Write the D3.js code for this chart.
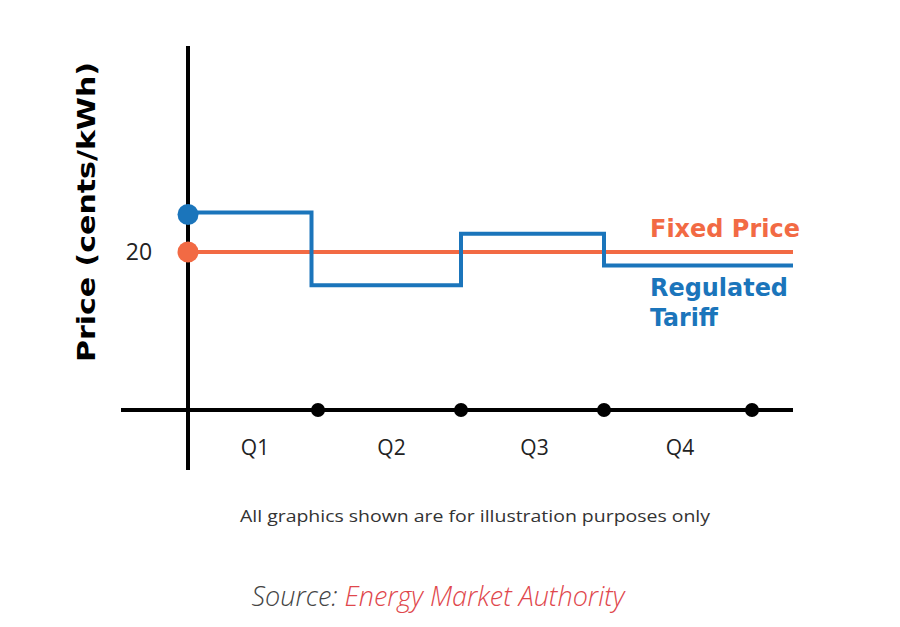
<!DOCTYPE html>
<html>
<head>
<meta charset="utf-8">
<script src="https://cdn.jsdelivr.net/npm/d3@7"></script>
<style>
  body { margin: 0; background: #fff; }
  svg { display: block; }
</style>
</head>
<body>
<script>
// data
var quarters = ["Q1", "Q2", "Q3", "Q4"];
var quarterMarks = [1, 2, 3, 4];          // dots on the time axis
var fixedPrice = [20, 20];                // flat line
var fixedX = [0, 4.28];
var tariffX = [0, 0.95, 2, 3, 4.28];      // step edges
var tariffValues = [25, 15.8, 22.3, 18.3];
var yTicks = [20];

var W = 900, H = 627;
var svg = d3.select("body").append("svg")
    .attr("width", W)
    .attr("height", H);

// the quarters in the picture are not evenly spaced
var x = d3.scaleLinear()
    .domain([0, 1, 2, 3, 4, 4.28])
    .range([188, 318, 461, 604, 752, 793]);
var y = d3.scaleLinear()
    .domain([0, 20])
    .range([410, 252]);

var blue = "#1b75bb", orange = "#f26a44";
var boldFont = "DejaVu Sans";

// axes
svg.append("line")
    .attr("x1", 121).attr("x2", 793)
    .attr("y1", y(0)).attr("y2", y(0))
    .attr("stroke", "#000").attr("stroke-width", 4);
svg.append("line")
    .attr("x1", x(0)).attr("x2", x(0))
    .attr("y1", 46).attr("y2", 470)
    .attr("stroke", "#000").attr("stroke-width", 4);

svg.selectAll(".qdot")
    .data(quarterMarks)
    .enter().append("circle")
    .attr("cx", function(d) { return x(d); })
    .attr("cy", y(0))
    .attr("r", 7)
    .attr("fill", "#000");

svg.selectAll(".qlabel")
    .data(quarters)
    .enter().append("text")
    .attr("x", function(d, i) { return x(i + 0.5) + 2; })
    .attr("y", 455)
    .attr("text-anchor", "middle")
    .attr("font-family", "Open Sans")
    .attr("font-size", 21)
    .attr("fill", "#222")
    .text(function(d) { return d; });

svg.selectAll(".ytick")
    .data(yTicks)
    .enter().append("text")
    .attr("x", 139)
    .attr("y", function(d) { return y(d) + 8; })
    .attr("text-anchor", "middle")
    .attr("font-family", "Open Sans")
    .attr("font-size", 23)
    .attr("fill", "#222")
    .text(function(d) { return d; });

svg.append("text")
    .attr("transform", "translate(95,212) rotate(-90)")
    .attr("text-anchor", "middle")
    .attr("font-family", boldFont)
    .attr("font-weight", "bold")
    .attr("font-size", 24)
    .attr("textLength", 300)
    .attr("lengthAdjust", "spacingAndGlyphs")
    .attr("fill", "#000")
    .text("Price (cents/kWh)");

// fixed price
var line = d3.line()
    .x(function(d) { return x(d[0]); })
    .y(function(d) { return y(d[1]); });

svg.append("path")
    .datum(fixedX.map(function(d, i) { return [d, fixedPrice[i]]; }))
    .attr("d", line)
    .attr("fill", "none")
    .attr("stroke", orange)
    .attr("stroke-width", 4);

// regulated tariff as steps
var stepPts = tariffValues.map(function(v, i) { return [tariffX[i], v]; });
stepPts.push([tariffX[tariffX.length - 1], tariffValues[tariffValues.length - 1]]);
svg.append("path")
    .datum(stepPts)
    .attr("d", line.curve(d3.curveStepAfter))
    .attr("fill", "none")
    .attr("stroke", blue)
    .attr("stroke-width", 4);

svg.append("circle")
    .attr("cx", x(0)).attr("cy", y(tariffValues[0]) + 2)
    .attr("r", 10.5).attr("fill", blue);
svg.append("circle")
    .attr("cx", x(0)).attr("cy", y(fixedPrice[0]))
    .attr("r", 10.5).attr("fill", orange);

// series labels
function seriesLabel(txt, yy, color, len) {
  var t = svg.append("text")
      .attr("x", 650).attr("y", yy)
      .attr("font-family", boldFont).attr("font-weight", "bold")
      .attr("font-size", 24).attr("fill", color)
      .text(txt);
  if (len) t.attr("textLength", len).attr("lengthAdjust", "spacingAndGlyphs");
}
seriesLabel("Fixed Price", 237, orange, 150);
seriesLabel("Regulated", 296, blue, 138);
seriesLabel("Tariff", 326, blue, 68);

svg.append("text")
    .attr("x", 475).attr("y", 522)
    .attr("text-anchor", "middle")
    .attr("font-family", "Open Sans")
    .attr("font-size", 16)
    .attr("fill", "#333")
    .attr("textLength", 470)
    .attr("lengthAdjust", "spacingAndGlyphs")
    .text("All graphics shown are for illustration purposes only");

var src = svg.append("text")
    .attr("x", 438).attr("y", 606)
    .attr("text-anchor", "middle")
    .attr("font-family", "Open Sans")
    .attr("font-style", "italic")
    .attr("font-weight", 300)
    .attr("font-size", 27);
src.append("tspan").attr("fill", "#444").text("Source: ");
src.append("tspan").attr("fill", "#e0474c").text("Energy Market Authority");
</script>
</body>
</html>
